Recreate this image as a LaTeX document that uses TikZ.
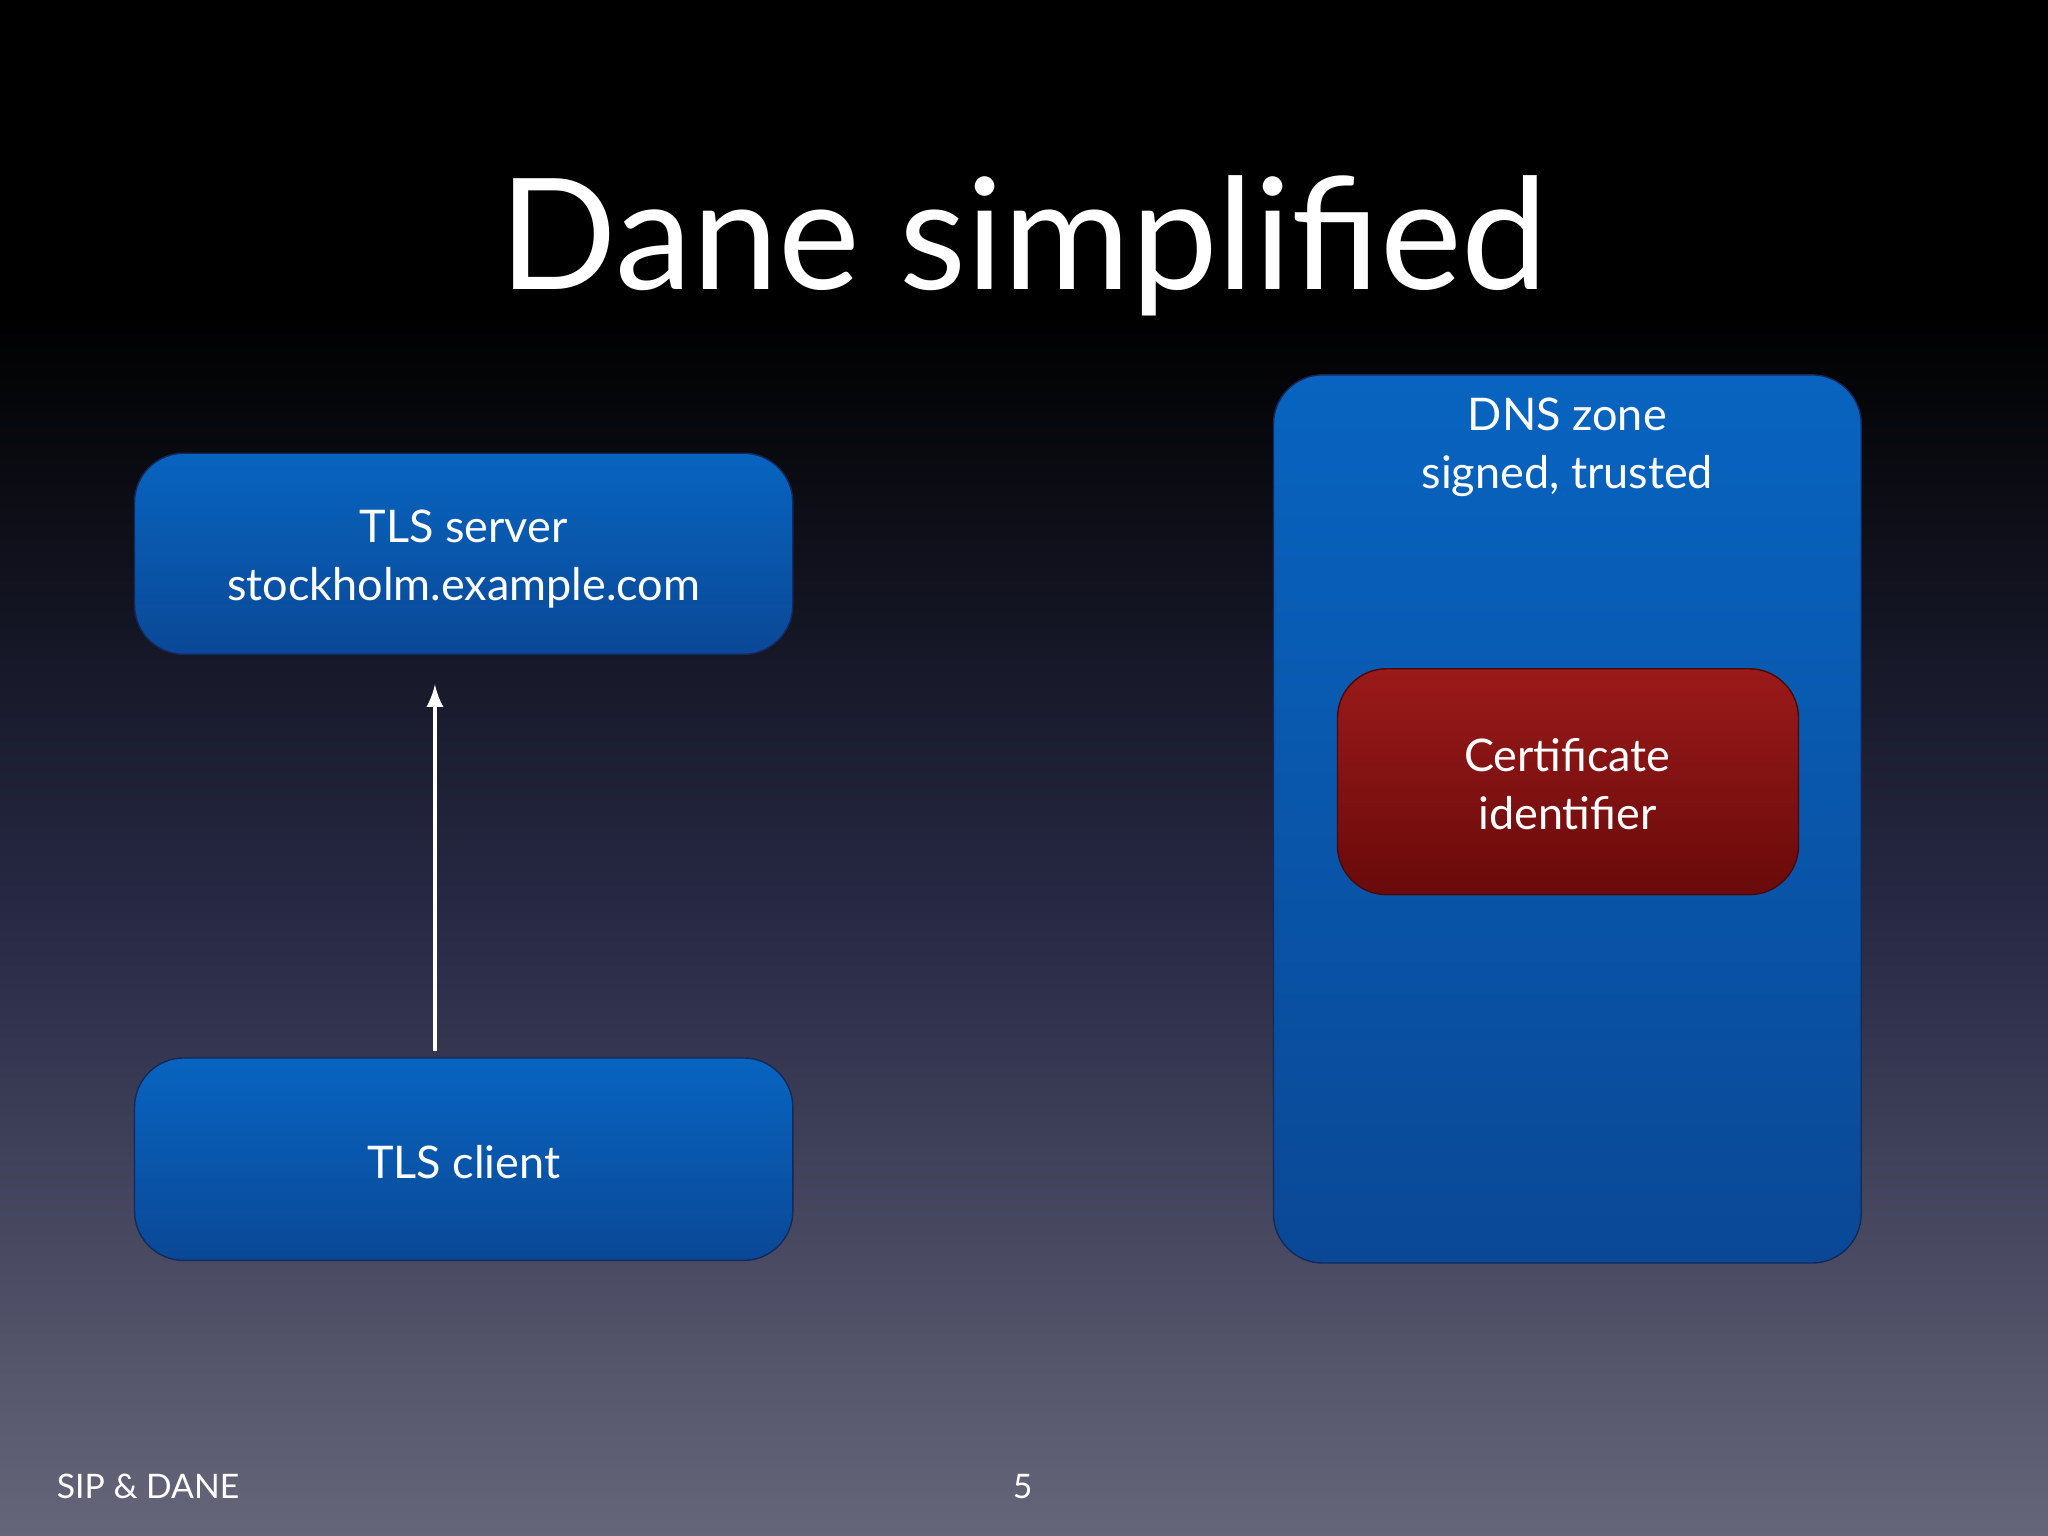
\documentclass[tikz,border=0pt]{standalone}
\usepackage{fontspec}
\setmainfont{Lato}
\begin{document}
\begin{tikzpicture}[x=0.013061cm,y=-0.013061cm,
  bluebox/.style={rounded corners=14pt,top color={rgb,255:red,8;green,100;blue,192},bottom color={rgb,255:red,10;green,72;blue,150},draw={rgb,255:red,20;green,40;blue,90},line width=0.4pt},
  redbox/.style={rounded corners=14pt,top color={rgb,255:red,155;green,26;blue,26},bottom color={rgb,255:red,105;green,10;blue,10},draw={rgb,255:red,70;green,10;blue,10},line width=0.4pt},
  boxtext/.style={text=white,font=\fontsize{12.8}{16.5}\selectfont,align=center},
  foot/.style={text=white,font=\fontsize{9.6}{11}\selectfont}]
\useasboundingbox (0,0) rectangle (1568,1176);
\fill[black] (0,0) rectangle (1568,240);
\shade[top color=black,bottom color={rgb,255:red,102;green,102;blue,122},middle color={rgb,255:red,40;green,42;blue,70}] (0,239) rectangle (1568,1176);
\node[text=white,font=\fontsize{44}{52}\selectfont] (title) at (784,188) {Dane simplified};
\path[bluebox] (103,347) rectangle (607,501);
\node[boxtext] (server) at (355,428) {TLS server\\stockholm.example.com};
\path[bluebox] (103,810) rectangle (607,965);
\node[boxtext] (client) at (355,890) {TLS client};
\path[bluebox] (975,287) rectangle (1425,967);
\node[boxtext,anchor=north] (dns) at (1200,295) {DNS zone\\signed, trusted};
\path[redbox] (1024,512) rectangle (1377,685);
\node[boxtext] (cert) at (1200,600) {Certificate\\identifier};
\coordinate (a1) at (333,805);
\coordinate (a2) at (333,524);
\draw[white,line width=1.2pt,-latex] (a1) -- (a2);
\node[foot,anchor=west,inner sep=0pt] (f1) at (43,1138) {SIP \& DANE};
\node[foot] (f2) at (783,1138) {5};
\end{tikzpicture}
\end{document}
